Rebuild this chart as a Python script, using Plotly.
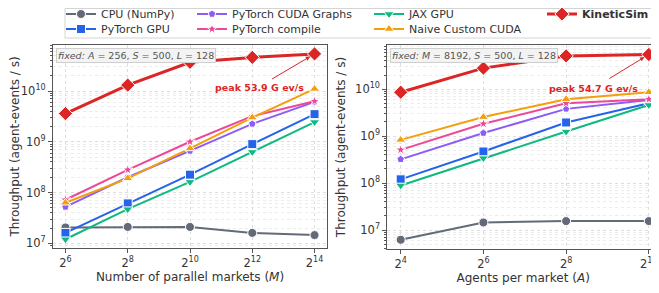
import math
import plotly.graph_objects as go

# ---------------- data ----------------
markets = [64, 256, 1024, 4096, 16384]
agents = [16, 64, 256, 1024]

series_names = ["CPU (NumPy)", "PyTorch GPU", "PyTorch CUDA Graphs", "PyTorch compile",
                "JAX GPU", "Naive Custom CUDA", "KineticSim"]

cpu_m = [2.05e7, 2.1e7, 2.1e7, 1.6e7, 1.45e7]
torch_m = [1.6e7, 6.1e7, 2.25e8, 9.0e8, 3.5e9]
graphs_m = [5.2e7, 2.0e8, 6.6e8, 2.25e9, 6.1e9]
compile_m = [7.2e7, 2.8e8, 1.0e9, 3.2e9, 6.3e9]
jax_m = [1.2e7, 4.7e7, 1.62e8, 6.3e8, 2.45e9]
naive_m = [6.3e7, 1.9e8, 7.4e8, 3.0e9, 1.1e10]
kinetic_m = [3.6e9, 1.31e10, 3.68e10, 4.6e10, 5.39e10]

cpu_a = [6.2e6, 1.45e7, 1.55e7, 1.55e7]
torch_a = [1.2e8, 4.7e8, 1.95e9, 5.0e9]
graphs_a = [3.2e8, 1.16e9, 3.8e9, 5.9e9]
compile_a = [5.1e8, 1.83e9, 5.0e9, 6.1e9]
jax_a = [8.9e7, 3.4e8, 1.25e9, 4.6e9]
naive_a = [8.3e8, 2.54e9, 6.1e9, 8.6e9]
kinetic_a = [8.6e9, 2.8e10, 5.1e10, 5.47e10]

x_tick_m = ["2<sup>6</sup>", "2<sup>8</sup>", "2<sup>10</sup>", "2<sup>12</sup>", "2<sup>14</sup>"]
x_tick_a = ["2<sup>4</sup>", "2<sup>6</sup>", "2<sup>8</sup>", "2<sup>10</sup>"]
y_tickvals = [1e7, 1e8, 1e9, 1e10]
y_ticktext = ["10<sup>7</sup>", "10<sup>8</sup>", "10<sup>9</sup>", "10<sup>10</sup>"]

peak_m_label = "peak 53.9 G ev/s"
peak_a_label = "peak 54.7 G ev/s"
fixed_m_label = "<i>fixed:</i> <i>A</i> = 256, <i>S</i> = 500, <i>L</i> = 128"
fixed_a_label = "<i>fixed:</i> <i>M</i> = 8192, <i>S</i> = 500, <i>L</i> = 128"

# ---------------- styles ----------------
colors = ["#636b78", "#2563eb", "#8b5cf6", "#ec4899", "#10b981", "#f59e0b", "#dc2626"]
symbols = ["circle", "square", "pentagon", "star", "triangle-down", "triangle-up", "diamond"]
msizes = [9, 9, 8, 8, 9, 9, 11]
lwidths = [2, 2, 2, 2, 2, 2, 3]

# page body has an 8px default margin: figure is offset by (8, 8)
OFF = 8
W, H = 659 - OFF, 293 - OFF
FONT = "DejaVu Sans"
TXT = "#333333"

def px(x):
    return (x - OFF) / W

def py(y):
    return 1 - (y - OFF) / H

fig = go.Figure()

data_m = [cpu_m, torch_m, graphs_m, compile_m, jax_m, naive_m, kinetic_m]
data_a = [cpu_a, torch_a, graphs_a, compile_a, jax_a, naive_a, kinetic_a]

legend_ids = ["legend", "legend2", "legend3", "legend4", "legend5", "legend6", "legend7"]

for i, name in enumerate(series_names):
    for xs, ys, xa, ya, show in [(markets, data_m[i], "x", "y", True),
                                 (agents, data_a[i], "x2", "y2", False)]:
        fig.add_trace(go.Scatter(
            x=xs, y=ys, xaxis=xa, yaxis=ya,
            name=("<b>%s</b>" % name) if i == 6 else name,
            mode="lines+markers",
            line=dict(color=colors[i], width=lwidths[i]),
            marker=dict(symbol=symbols[i], size=msizes[i], color=colors[i],
                        line=dict(color="white", width=1)),
            showlegend=show, legend=legend_ids[i],
        ))

# legend positions (text start x, row center y) in page pixels
R1, R2 = 14, 29
leg_pos = [(101, R1), (101, R2), (232, R1), (232, R2), (409, R1), (409, R2), (582, R1)]
legend_layout = {}
for i, lid in enumerate(legend_ids):
    tx, ty = leg_pos[i]
    legend_layout[lid] = dict(
        x=px(tx - 40), y=py(ty), xanchor="left", yanchor="middle",
        bgcolor="rgba(0,0,0,0)", borderwidth=0,
        font=dict(family=FONT, size=11, color=TXT),
        itemwidth=30, tracegroupgap=0,
    )

axis_common = dict(
    type="log", showline=True, linecolor="#555555", linewidth=1, mirror=True,
    ticks="outside", ticklen=4, tickcolor="#555555",
    tickfont=dict(family=FONT, size=11.5, color=TXT),
    showgrid=True, gridcolor="#dedede", griddash="dot", gridwidth=1,
    zeroline=False, automargin=False,
)
minor_y = dict(dtick="D1", ticks="outside", ticklen=2, tickcolor="#555555",
               showgrid=True, gridcolor="#ececec", griddash="dot")
title_font = dict(family=FONT, size=12, color=TXT)

l2 = math.log10(2)

fig.update_layout(
    width=W, height=H,
    margin=dict(l=0, r=0, t=0, b=0, autoexpand=False),
    paper_bgcolor="white", plot_bgcolor="white",
    font=dict(family=FONT, size=11, color=TXT),
    xaxis=dict(**axis_common, domain=[px(53), px(327)],
               range=[5.6 * l2, 14.4 * l2],
               tickmode="array", tickvals=markets, ticktext=x_tick_m,
               title=dict(text="Number of parallel markets (<i>M</i>)", font=title_font, standoff=3),
               anchor="y"),
    yaxis=dict(**axis_common, domain=[py(248), py(45)],
               range=[6.907, 10.907],
               tickmode="array", tickvals=y_tickvals, ticktext=y_ticktext,
               minor=minor_y,
               title=dict(text="Throughput (agent-events / s)", font=title_font, standoff=6),
               anchor="x"),
    xaxis2=dict(**axis_common, domain=[px(387.3), 1.0],
                range=[3.676 * l2, 3.676 * l2 + (W - (387.3 - OFF)) / 41.35 * l2],
                tickmode="array", tickvals=agents, ticktext=x_tick_a,
                title=dict(text="Agents per market (<i>A</i>)", font=title_font, standoff=3),
                anchor="y2"),
    yaxis2=dict(**axis_common, domain=[py(249), py(45)],
                range=[6.596, 10.94],
                tickmode="array", tickvals=y_tickvals, ticktext=y_ticktext,
                minor=minor_y,
                title=dict(text="Throughput (agent-events / s)", font=title_font, standoff=6),
                anchor="x2"),
    **legend_layout,
)

# legend frame
fig.add_shape(type="rect", xref="paper", yref="paper",
              x0=px(65), x1=px(653), y0=py(38), y1=py(8.5),
              line=dict(color="#d4d4d4", width=1), fillcolor="rgba(255,255,255,0)",
              layer="below")

red = "#dc2626"
anns = []
for xa, ya, xv, yv, lab, ax, ay, xs, ys in [
    ("x", "y", markets[-1], kinetic_m[-1], peak_m_label, -44, 26, -55, -34),
    ("x2", "y2", agents[-1], kinetic_a[-1], peak_a_label, -41, 25, -55, -34),
]:
    anns.append(dict(xref=xa, yref=ya, x=math.log10(xv), y=math.log10(yv), text="",
                     showarrow=True, ax=ax, ay=ay, arrowcolor=red, arrowwidth=1,
                     arrowhead=2, arrowsize=0.9, standoff=5))
    anns.append(dict(xref=xa, yref=ya, x=math.log10(xv), y=math.log10(yv), text="<b>" + lab + "</b>",
                     showarrow=False, xshift=xs, yshift=ys, xanchor="center", yanchor="middle",
                     font=dict(family=FONT, size=9.5, color=red)))

for x0, lab in [(56, fixed_m_label), (390, fixed_a_label)]:
    anns.append(dict(xref="paper", yref="paper", x=px(x0), y=py(48), xanchor="left", yanchor="top",
                     text=lab, showarrow=False, bgcolor="#f3f3f3", bordercolor="#cfcfcf",
                     borderwidth=1, borderpad=1,
                     font=dict(family=FONT, size=9.5, color="#555555")))

fig.update_layout(annotations=anns)

fig.write_html("out.html")
